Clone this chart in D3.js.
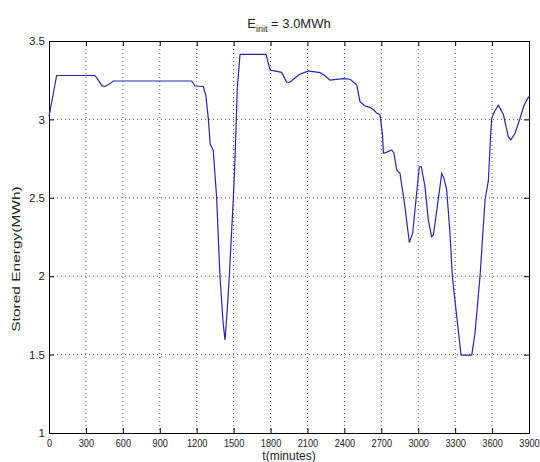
<!DOCTYPE html>
<html lang="en">
<head>
    <meta charset="UTF-8">
    <title>Stored Energy</title>
    <script src="https://d3js.org/d3.v7.min.js"></script>
    <style>
        body {
            margin: 0;
            background: #fff;
        }
        text {
            font-family: "Liberation Sans", Arial, sans-serif;
            fill: #222;
        }
    </style>
</head>
<body>
    <div id="chart"></div>

    <script>
        // data: time (minutes) and stored energy (MWh)
        const timeMin = [0, 10, 62, 374, 400, 430, 455, 490, 523, 1159, 1186, 1254, 1275, 1295, 1310, 1322,
            1335, 1362, 1389, 1415, 1430, 1445, 1465, 1498, 1511, 1530, 1552, 1763, 1796, 1830, 1890,
            1931, 1958, 2030, 2107, 2202, 2240, 2283, 2391, 2446, 2500, 2527, 2568, 2608, 2640, 2662,
            2689, 2710, 2717, 2740, 2784, 2803, 2825, 2852, 2892, 2928, 2955, 2987, 3009, 3025, 3055,
            3082, 3109, 3123, 3155, 3191, 3209, 3231, 3258, 3277, 3313, 3348, 3435, 3461, 3502, 3543,
            3570, 3589, 3597, 3620, 3651, 3692, 3732, 3751, 3786, 3827, 3860, 3880, 3898];
        const storedEnergy = [3.02, 3.06, 3.28, 3.28, 3.25, 3.215, 3.21, 3.225, 3.245, 3.245, 3.213, 3.21, 3.15, 3.0, 2.84, 2.826,
            2.8, 2.5, 2.0, 1.7, 1.593, 1.75, 2.0, 2.5, 2.74, 3.2, 3.415, 3.415, 3.315, 3.31, 3.30,
            3.237, 3.237, 3.285, 3.309, 3.298, 3.28, 3.25, 3.26, 3.256, 3.22, 3.113, 3.085, 3.077, 3.06, 3.04,
            3.03, 2.9, 2.784, 2.79, 2.805, 2.784, 2.677, 2.656, 2.443, 2.214, 2.274, 2.529, 2.698, 2.698, 2.571,
            2.358, 2.252, 2.263, 2.443, 2.656, 2.624, 2.55, 2.274, 2.0, 1.742, 1.497, 1.497, 1.636, 2.0, 2.486,
            2.61, 2.91, 3.007, 3.05, 3.09, 3.03, 2.89, 2.869, 2.91, 3.007, 3.09, 3.12, 3.145];

        const xTicks = [0, 300, 600, 900, 1200, 1500, 1800, 2100, 2400, 2700, 3000, 3300, 3600, 3900];
        const yTicks = [1, 1.5, 2, 2.5, 3, 3.5];

        const data = timeMin.map((t, i) => ({ t: t, e: storedEnergy[i] }));

        const svg = d3.select("#chart").append("svg")
            .attr("width", 540)
            .attr("height", 462);

        const margin = { top: 41, right: 11, bottom: 29, left: 49 };
        const width = +svg.attr("width") - margin.left - margin.right;
        const height = +svg.attr("height") - margin.top - margin.bottom;

        const g = svg.append("g")
            .attr("transform", `translate(${margin.left},${margin.top})`);

        const x = d3.scaleLinear().domain([0, 3900]).range([0, width]);
        const y = d3.scaleLinear().domain([1, 3.5]).range([height, 0]);

        // dotted grid
        g.append("g")
            .selectAll("line")
            .data(xTicks.slice(1, -1))
            .enter().append("line")
            .attr("x1", d => x(d)).attr("x2", d => x(d))
            .attr("y1", 0).attr("y2", height)
            .attr("stroke", "#555")
            .attr("stroke-dasharray", "1,3");

        g.append("g")
            .selectAll("line")
            .data(yTicks.slice(1, -1))
            .enter().append("line")
            .attr("y1", d => y(d)).attr("y2", d => y(d))
            .attr("x1", 0).attr("x2", width)
            .attr("stroke", "#555")
            .attr("stroke-dasharray", "1,3");

        // axes with inward ticks on all sides
        const tickLen = 5;
        const xAxis = g.append("g")
            .attr("transform", `translate(0,${height})`)
            .call(d3.axisBottom(x).tickValues(xTicks).tickSize(-tickLen).tickPadding(6).tickFormat(d3.format("d")));
        const xTop = g.append("g")
            .call(d3.axisTop(x).tickValues(xTicks).tickSize(-tickLen).tickFormat(""));
        const yAxis = g.append("g")
            .call(d3.axisLeft(y).tickValues(yTicks).tickSize(-tickLen).tickPadding(4).tickFormat(d => String(d)));
        const yRight = g.append("g")
            .attr("transform", `translate(${width},0)`)
            .call(d3.axisRight(y).tickValues(yTicks).tickSize(-tickLen).tickFormat(""));

        [xAxis, xTop, yAxis, yRight].forEach(a => {
            a.select(".domain").attr("stroke", "#000");
            a.selectAll(".tick line").attr("stroke", "#000");
        });
        // the original's x labels are narrow
        xAxis.selectAll(".tick text")
            .attr("fill", "#222")
            .attr("font-family", "Liberation Sans, Arial, sans-serif")
            .attr("font-size", "11.5px")
            .attr("transform", "scale(0.8,1)");
        yAxis.selectAll(".tick text")
            .attr("fill", "#222")
            .attr("font-family", "Liberation Sans, Arial, sans-serif")
            .attr("font-size", "11.5px");

        // energy curve
        const line = d3.line().x(d => x(d.t)).y(d => y(d.e));
        g.append("path")
            .datum(data)
            .attr("fill", "none")
            .attr("stroke", "#2424b8")
            .attr("stroke-width", 1.2)
            .attr("d", line);

        // title with subscript
        const title = svg.append("text")
            .attr("x", margin.left + width / 2)
            .attr("y", 28)
            .attr("text-anchor", "middle")
            .attr("font-size", "13px");
        title.append("tspan").text("E");
        title.append("tspan").attr("dy", 4).attr("font-size", "9px").text("init");
        title.append("tspan").attr("dy", -4).text(" = 3.0MWh");

        svg.append("text")
            .attr("x", margin.left + width / 2)
            .attr("y", 460)
            .attr("text-anchor", "middle")
            .attr("font-size", "12px")
            .text("t(minutes)");

        svg.append("text")
            .attr("transform", "translate(20,259) rotate(-90) scale(1,0.72)")
            .attr("text-anchor", "middle")
            .attr("font-size", "15.5px")
            .attr("fill", "#333")
            .text("Stored Energy(MWh)");
    </script>
</body>
</html>
